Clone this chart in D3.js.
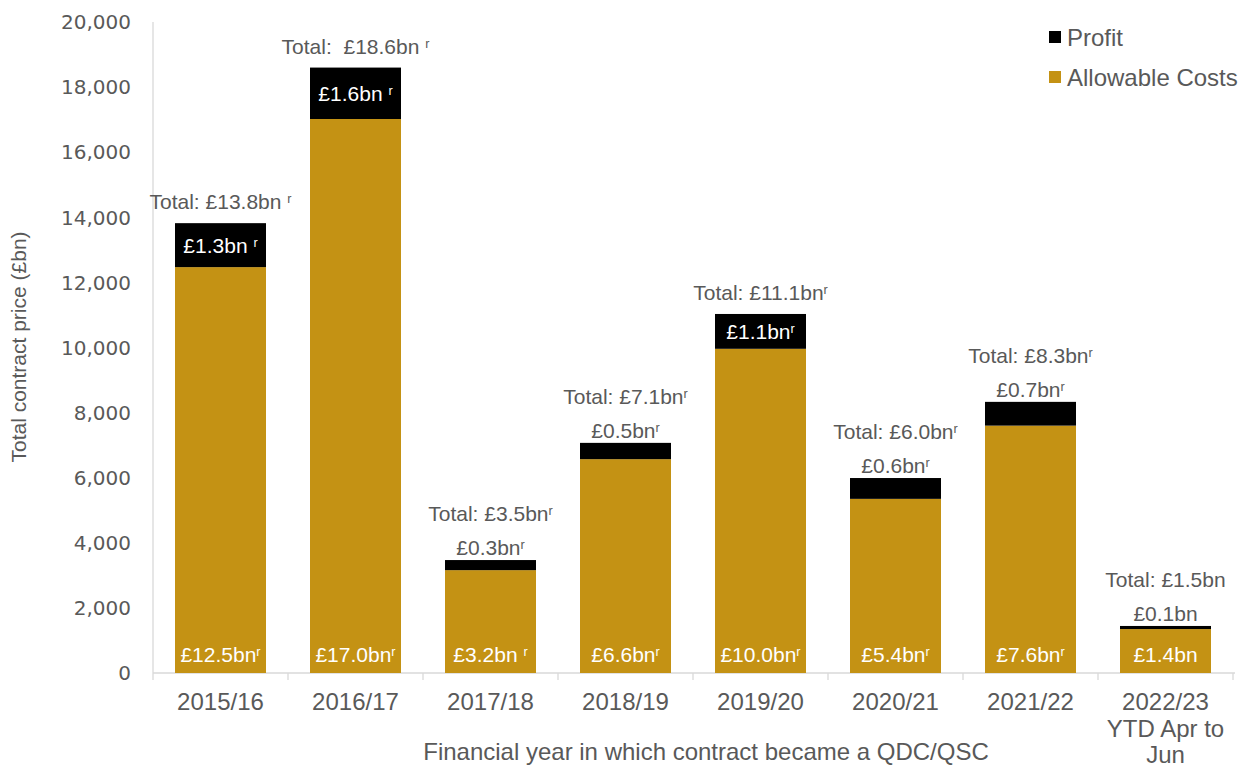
<!DOCTYPE html>
<html>
<head>
<meta charset="utf-8">
<script src="https://cdn.jsdelivr.net/npm/d3@7"></script>
<style>
  body { margin: 0; background: #fff; }
  svg { font-family: "Liberation Sans", Arial, sans-serif; }
  text { white-space: pre; }
</style>
</head>
<body>
<svg id="chart" width="1250" height="769"></svg>
<script>
// data (values in £m, labels as printed)
var years = ['2015/16', '2016/17', '2017/18', '2018/19', '2019/20', '2020/21', '2021/22', '2022/23|YTD Apr to|Jun'];
var costs = [12470, 17020, 3160, 6570, 9960, 5350, 7600, 1350];
var profit = [1350, 1580, 310, 500, 1070, 640, 730, 95];
var costText = ['£12.5bn', '£17.0bn', '£3.2bn ', '£6.6bn', '£10.0bn', '£5.4bn', '£7.6bn', '£1.4bn'];
var profitText = ['£1.3bn ', '£1.6bn ', '£0.3bn', '£0.5bn', '£1.1bn', '£0.6bn', '£0.7bn', '£0.1bn'];
var totalText = ['Total: £13.8bn ', 'Total:  £18.6bn ', 'Total: £3.5bn', 'Total: £7.1bn', 'Total: £11.1bn', 'Total: £6.0bn', 'Total: £8.3bn', 'Total: £1.5bn'];
var revised = [true, true, true, true, true, true, true, false];
var yTicks = [0, 2000, 4000, 6000, 8000, 10000, 12000, 14000, 16000, 18000, 20000];

var gold = '#c49214', grey = '#595959', axisGrey = '#d9d9d9';
var svg = d3.select('#chart');

var x = d3.scaleBand().domain(years).range([153, 1233]).paddingInner(0.326).paddingOuter(0.163);
var y = d3.scaleLinear().domain([0, 20000]).range([673, 22]);

var rows = years.map(function(d, i) {
  return {year: d, cost: costs[i], profit: profit[i], i: i};
});

// y axis
svg.append('line').attr('x1', 153).attr('x2', 153).attr('y1', y(20000)).attr('y2', y(0))
  .attr('stroke', axisGrey).attr('stroke-width', 1.3);
svg.selectAll('.ytick').data(yTicks).enter().append('text')
  .attr('x', 131).attr('y', function(d) { return y(d); })
  .attr('dy', '0.36em').attr('text-anchor', 'end')
  .style('font-family', '"DejaVu Sans", Verdana, sans-serif')
  .style('font-size', '20px').attr('fill', grey)
  .text(d3.format(','));

svg.append('text')
  .attr('transform', 'translate(26,' + 347 + ') rotate(-90)')
  .attr('text-anchor', 'middle').attr('fill', grey).style('font-size', '21px')
  .text('Total contract price (£bn)');

// x axis
svg.append('line').attr('x1', 153).attr('x2', 1235).attr('y1', y(0)).attr('y2', y(0))
  .attr('stroke', axisGrey).attr('stroke-width', 1.3);
var step = x.step();
svg.selectAll('.xtick').data(d3.range(years.length + 1)).enter().append('line')
  .attr('x1', function(d) { return 153 + d * step; })
  .attr('x2', function(d) { return 153 + d * step; })
  .attr('y1', y(0)).attr('y2', y(0) + 7)
  .attr('stroke', axisGrey).attr('stroke-width', 1.3);

svg.selectAll('.xlab').data(years).enter().append('text')
  .attr('text-anchor', 'middle').attr('fill', grey).style('font-size', '24px')
  .each(function(d) {
    var t = d3.select(this);
    d.split('|').forEach(function(line, k) {
      t.append('tspan').attr('x', x(d) + x.bandwidth() / 2)
        .attr('y', 710 + k * 26.5).text(line);
    });
  });

svg.append('text').attr('x', 706).attr('y', 760).attr('text-anchor', 'middle')
  .attr('fill', grey).style('font-size', '24px')
  .text('Financial year in which contract became a QDC/QSC');

// bars
svg.selectAll('.cost').data(rows).enter().append('rect')
  .attr('x', function(d) { return x(d.year); }).attr('width', x.bandwidth())
  .attr('y', function(d) { return y(d.cost); })
  .attr('height', function(d) { return y(0) - y(d.cost); })
  .attr('fill', gold);

svg.selectAll('.profit').data(rows).enter().append('rect')
  .attr('x', function(d) { return x(d.year); }).attr('width', x.bandwidth())
  .attr('y', function(d) { return y(d.cost + d.profit); })
  .attr('height', function(d) { return y(d.cost) - y(d.cost + d.profit); })
  .attr('fill', '#000');

function label(sel, str, r) {
  sel.append('tspan').text(str);
  if (r) sel.append('tspan').attr('dy', '-0.45em').style('font-size', '0.6em').text('r');
}

// labels
rows.forEach(function(d) {
  var cx = x(d.year) + x.bandwidth() / 2;
  var top = y(d.cost + d.profit);
  var inside = (y(d.cost) - top) > 30;

  svg.append('text').attr('x', cx).attr('y', y(0) - 11)
    .attr('text-anchor', 'middle').attr('fill', '#fff').style('font-size', '21px')
    .call(label, costText[d.i], revised[d.i]);

  var p = svg.append('text').attr('x', cx).attr('text-anchor', 'middle').style('font-size', '21px');
  if (inside) {
    p.attr('y', (top + y(d.cost)) / 2).attr('dy', '0.36em').attr('fill', '#fff');
  } else {
    p.attr('y', top - 5).attr('fill', grey);
  }
  p.call(label, profitText[d.i], revised[d.i]);

  svg.append('text').attr('x', cx).attr('y', inside ? top - 14 : top - 39)
    .attr('text-anchor', 'middle').attr('fill', grey).style('font-size', '21px')
    .call(label, totalText[d.i], revised[d.i]);
});

// legend
var legend = [['Profit', '#000'], ['Allowable Costs', gold]];
legend.forEach(function(l, k) {
  svg.append('rect').attr('x', 1049).attr('y', 31 + k * 40).attr('width', 12).attr('height', 12).attr('fill', l[1]);
  svg.append('text').attr('x', 1067).attr('y', 37 + k * 40).attr('dy', '0.36em')
    .attr('fill', grey).style('font-size', '24px').text(l[0]);
});
</script>
</body>
</html>
